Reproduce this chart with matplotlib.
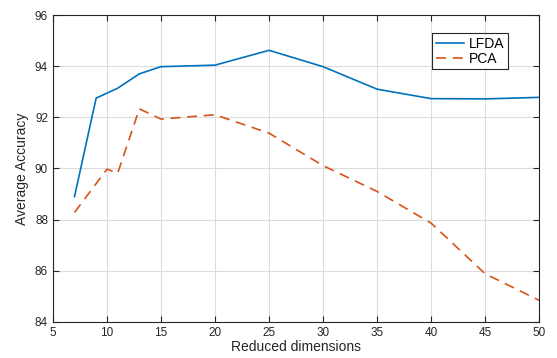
#!/usr/bin/env python3
"""Average accuracy vs reduced dimensions for LFDA and PCA."""

import matplotlib
matplotlib.use('Agg')
import matplotlib.pyplot as plt

lfda_dims = [7, 9, 11, 13, 15, 20, 25, 30, 35, 40, 45, 50]
lfda_acc = [88.9, 92.75, 93.14, 93.7, 93.98, 94.04, 94.62, 93.98, 93.1, 92.73, 92.72, 92.78]

pca_dims = [7, 10, 11, 13, 15, 20, 25, 30, 35, 40, 45, 50]
pca_acc = [88.28, 89.97, 89.82, 92.33, 91.93, 92.1, 91.38, 90.11, 89.1, 87.86, 85.88, 84.84]

x_ticks = [5, 10, 15, 20, 25, 30, 35, 40, 45, 50]
y_ticks = [84, 86, 88, 90, 92, 94, 96]

plt.rcParams['font.family'] = ['Liberation Sans', 'DejaVu Sans']

fig = plt.figure(figsize=(5.57, 3.58), dpi=100)
ax = fig.add_axes([0.095, 0.101, 0.873, 0.857])

ax.plot(lfda_dims, lfda_acc, color='#0072BD', linewidth=1.2, label='LFDA')
ax.plot(pca_dims, pca_acc, color='#D95319', linewidth=1.2,
        linestyle=(0, (6, 4)), label='PCA')

ax.set_xlim(5, 50)
ax.set_ylim(84, 96)
ax.set_xticks(x_ticks)
ax.set_yticks(y_ticks)
ax.grid(True, color='#dcdcdc', linewidth=0.8)
ax.set_axisbelow(True)
ax.tick_params(direction='in', top=True, right=True, length=4,
               labelsize=8.5, colors='#262626')
for side in ax.spines.values():
    side.set_color('#262626')
    side.set_linewidth(0.8)

ax.set_xlabel('Reduced dimensions', fontsize=10, color='#262626', labelpad=1)
ax.set_ylabel('Average Accuracy', fontsize=10, color='#262626', labelpad=4)

leg = ax.legend(loc='upper right', bbox_to_anchor=(0.936, 0.94), fontsize=10,
                fancybox=False, framealpha=1, edgecolor='#262626',
                handlelength=2.0, handletextpad=0.4, borderpad=0.25,
                labelspacing=0.05, borderaxespad=0)
leg.get_frame().set_linewidth(0.8)

fig.savefig('out.png', dpi=100)
